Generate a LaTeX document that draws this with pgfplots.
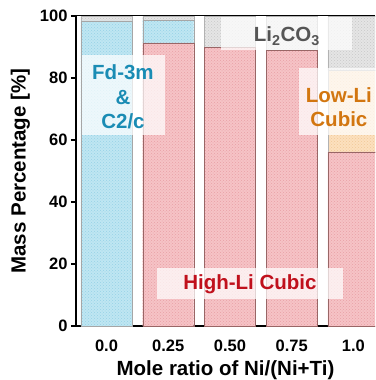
\documentclass[border=0pt]{standalone}
\usepackage{fontspec}
\setmainfont{Liberation Sans}
\usepackage{pgfplots}
\pgfplotsset{compat=1.18}
\usetikzlibrary{patterns}
\definecolor{cblue}{RGB}{180,226,240}
\definecolor{cred}{RGB}{245,184,188}
\definecolor{cgrey}{RGB}{224,224,224}
\definecolor{corange}{RGB}{251,218,178}
\definecolor{pblue}{RGB}{150,210,230}
\definecolor{pred}{RGB}{232,160,166}
\definecolor{pgrey}{RGB}{200,200,200}
\definecolor{porange}{RGB}{240,200,150}
\definecolor{tblue}{RGB}{26,140,180}
\definecolor{tred}{RGB}{192,16,28}
\definecolor{torange}{RGB}{210,118,16}
\definecolor{tgrey}{RGB}{85,85,85}
\begin{document}
\begin{tikzpicture}
\begin{axis}[
  scale only axis,
  width=299pt, height=310pt,
  xmin=-0.494, xmax=4.35,
  ymin=0, ymax=100,
  ybar stacked,
  bar width=51pt,
  axis x line*=bottom,
  axis y line*=left,
  axis line style={line width=1.6pt},
  xtick={0,1,2,3,4},
  xticklabels={0.0,0.25,0.50,0.75,1.0},
  x tick style={draw=none},
  ytick={0,20,40,60,80,100},
  y tick style={line width=1.2pt, black},
  tick align=outside,
  major tick length=5pt,
  ticklabel style={font=\fontsize{16.5}{19}\selectfont\bfseries},
  /pgf/number format/assume math mode=true,
  xticklabel style={yshift=-5pt},
  label style={font=\fontsize{20.5}{24}\selectfont\bfseries},
  xlabel={Mole ratio of Ni/(Ni+Ti)},
  ylabel={Mass Percentage [\%]},
  xlabel style={yshift=-3pt},
  ylabel style={yshift=3pt},
  clip=true,
]
% High-Li Cubic
\addplot[fill=cred!85!white, draw=gray!80!red, line width=0.4pt, postaction={pattern=crosshatch dots, pattern color=pred}] coordinates {(0,0) (1,91.3) (2,89.8) (3,89.0) (4,56.2)};
% Low-Li Cubic
\addplot[fill=corange!85!white, draw=gray!60, line width=0.4pt, postaction={pattern=crosshatch dots, pattern color=porange}] coordinates {(0,0) (1,0) (2,0) (3,0) (4,26.2)};
% Fd-3m & C2/c
\addplot[fill=cblue!85!white, draw=gray!70, line width=0.4pt, postaction={pattern=crosshatch dots, pattern color=pblue}] coordinates {(0,98.4) (1,7.4) (2,0) (3,0) (4,0)};
% Li2CO3
\addplot[fill=cgrey!85!white, draw=gray!60, line width=0.4pt, postaction={pattern=crosshatch dots, pattern color=pgrey}] coordinates {(0,1.6) (1,1.3) (2,10.2) (3,11.0) (4,17.6)};

\coordinate (A1) at (axis cs:-0.397,87.4);
\coordinate (A2) at (axis cs:0.947,61.6);
\coordinate (B1) at (axis cs:1.854,99.7);
\coordinate (B2) at (axis cs:3.976,89.0);
\coordinate (C1) at (axis cs:3.117,83.2);
\coordinate (C2) at (axis cs:4.43,61.6);
\coordinate (D1) at (axis cs:0.818,18.7);
\coordinate (D2) at (axis cs:3.83,8.7);
\coordinate (TA) at (axis cs:0.267,73.9);
\coordinate (TB) at (axis cs:2.923,93.5);
\coordinate (TC) at (axis cs:3.765,70.6);
\coordinate (TD) at (axis cs:2.324,13.5);

\coordinate (SW) at (rel axis cs:0,0);
\coordinate (NE) at (rel axis cs:1,1);
\coordinate (NW) at (rel axis cs:0,1);
\end{axis}
\fill[white, fill opacity=0.72] (A1) rectangle (A2);
\fill[white, fill opacity=0.72] (B1) rectangle (B2);
\fill[white, fill opacity=0.72] (C1) rectangle (C2);
\fill[white, fill opacity=0.72] (D1) rectangle (D2);
\node[align=center, text=tblue, font=\fontsize{20.5}{24.5}\selectfont\bfseries] at (TA) {Fd-3m\\\&\\C2/c};
\node[text=tgrey, font=\fontsize{20.5}{24}\selectfont\bfseries] at (TB) {Li\textsubscript{2}CO\textsubscript{3}};
\node[align=center, text=torange, font=\fontsize{20.5}{24.5}\selectfont\bfseries] at (TC) {Low-Li\\Cubic};
\node[text=tred, font=\fontsize{20.5}{24}\selectfont\bfseries] at (TD) {High-Li Cubic};
\draw[line width=1pt] (NW) -- (NE);
\pgfresetboundingbox
\path[use as bounding box] ([xshift=-76pt,yshift=-54pt]SW) rectangle ([yshift=16pt]NE);
\end{tikzpicture}
\end{document}
